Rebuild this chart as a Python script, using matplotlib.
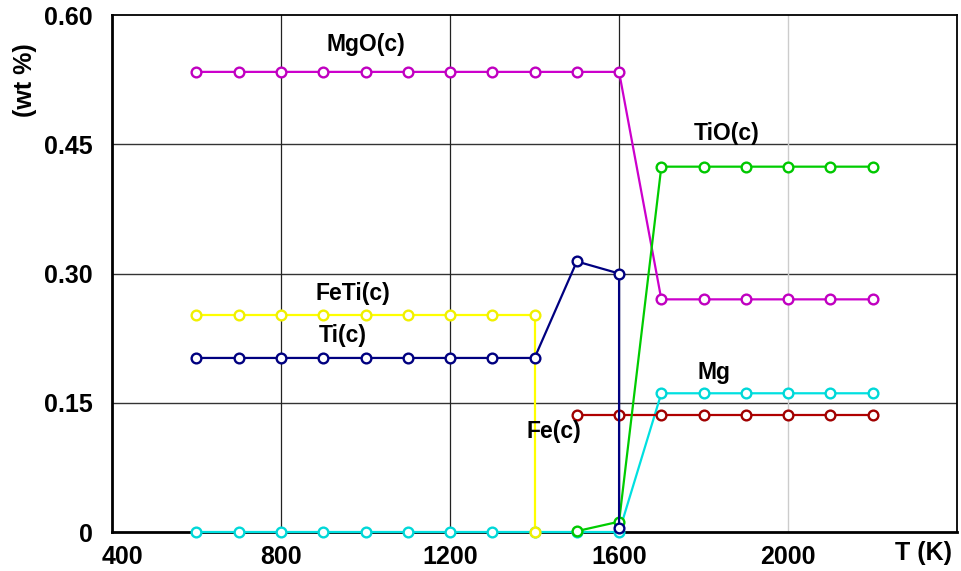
import matplotlib
matplotlib.use("Agg")
import matplotlib.pyplot as plt
import matplotlib.transforms as mtransforms

# temperature grid (K)
T_full = [600, 700, 800, 900, 1000, 1100, 1200, 1300, 1400, 1500, 1600,
          1700, 1800, 1900, 2000, 2100, 2200]

mgo_T = T_full
mgo = [0.534] * 11 + [0.270] * 6

tio_T = [1500, 1600, 1700, 1800, 1900, 2000, 2100, 2200]
tio = [0.001, 0.012, 0.424, 0.424, 0.424, 0.424, 0.424, 0.424]

feti_T = [600, 700, 800, 900, 1000, 1100, 1200, 1300, 1400, 1400]
feti = [0.252] * 9 + [0.0]

ti_T = [600, 700, 800, 900, 1000, 1100, 1200, 1300, 1400, 1500, 1600, 1600]
ti = [0.202] * 9 + [0.314, 0.300, 0.005]

fe_T = [1500, 1600, 1700, 1800, 1900, 2000, 2100, 2200]
fe = [0.136] * 8

mg_T = T_full
mg = [0.0] * 11 + [0.161] * 6

labels = ["MgO(c)", "TiO(c)", "FeTi(c)", "Ti(c)", "Mg", "Fe(c)"]
label_pos = [(1000, 0.566), (1855, 0.463), (970, 0.277),
             (946, 0.228), (1825, 0.185), (1445, 0.117)]

plt.rcParams['font.family'] = ['Liberation Sans', 'DejaVu Sans']
plt.rcParams['font.weight'] = 'bold'

fig = plt.figure(figsize=(9.61, 5.71), dpi=100)
ax = fig.add_axes([0.1165, 0.0683, 0.8795, 0.9054])

ax.set_xlim(400, 2400)
ax.set_ylim(0, 0.60)

# grid lines (the one at 2000 is light in the original)
for yv in [0.15, 0.30, 0.45]:
    ax.axhline(yv, color='#333333', lw=1.0, zorder=1)
for xv in [800, 1200, 1600]:
    ax.axvline(xv, color='#222222', lw=0.9, zorder=1)
ax.axvline(2000, color='#cccccc', lw=1.0, zorder=1)

series = [
    (mg_T, mg, '#00e0e0', '#00d8d8'),
    (fe_T, fe, '#b00000', '#a00000'),
    (feti_T, feti, '#ffff00', '#f0f000'),
    (mgo_T, mgo, '#cc00cc', '#c000c0'),
    (tio_T, tio, '#00cc00', '#00c800'),
    (ti_T, ti, '#000080', '#000080'),
]
for xs, ys, c, ec in series:
    ax.plot(xs, ys, color=c, lw=1.6, marker='o', ms=7,
            mfc='white', mec=ec, mew=1.7, zorder=3, clip_on=False)

for txt, (x, y) in zip(labels, label_pos):
    ax.text(x, y, txt, ha='center', va='center', fontsize=16.5,
            fontweight='bold', zorder=4)

ax.set_xticks([400, 800, 1200, 1600, 2000])
ax.set_xticklabels(['400', '800', '1200', '1600', '2000'])
ax.set_yticks([0, 0.15, 0.30, 0.45, 0.60])
ax.set_yticklabels(['0', '0.15', '0.30', '0.45', '0.60'])
ax.tick_params(axis='both', length=0, labelsize=18)
ax.tick_params(axis='x', pad=9)
ax.tick_params(axis='y', pad=14)
for lab in ax.get_xticklabels() + ax.get_yticklabels():
    lab.set_fontweight('bold')
# first x label sits a little to the right in the original
first = ax.get_xticklabels()[0]
first.set_transform(first.get_transform() +
                    mtransforms.ScaledTranslation(0.1, 0, fig.dpi_scale_trans))

for side in ['left', 'bottom']:
    ax.spines[side].set_linewidth(2.0)
for side in ['top', 'right']:
    ax.spines[side].set_linewidth(1.3)

ax.text(2320, -0.0245, 'T (K)', ha='center', va='center', fontsize=18,
        fontweight='bold', transform=ax.transData)
fig.text(25 / 961, 1 - 80 / 571, '(wt %)', rotation=90, ha='center',
         va='center', fontsize=18, fontweight='bold')

fig.savefig('out.png', dpi=100)
